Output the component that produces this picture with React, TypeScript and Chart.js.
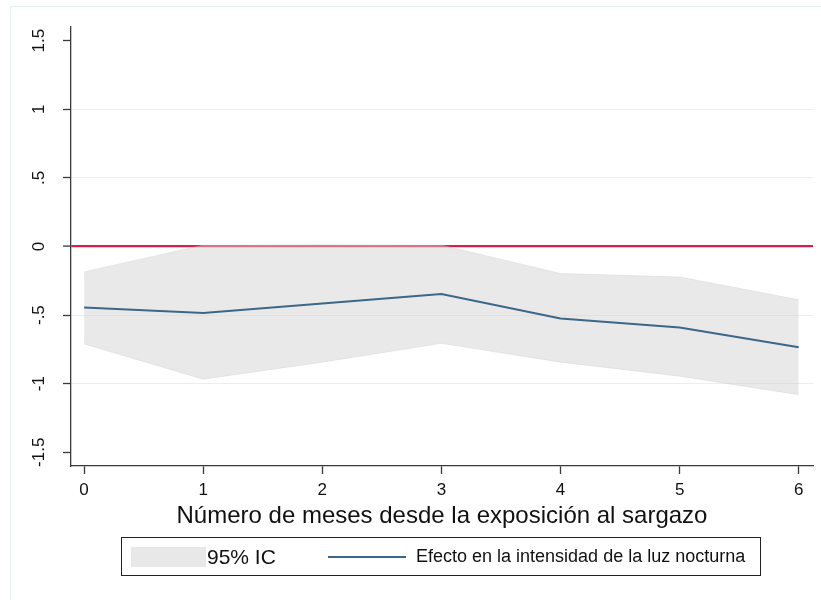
import React, { useEffect, useRef } from "react";
import { Chart, registerables } from "chart.js";

Chart.register(...registerables);

const months = [0, 1, 2, 3, 4, 5, 6];
const effect = [-0.445, -0.485, -0.415, -0.347, -0.524, -0.59, -0.735];
const upperCI = [-0.185, 0.01, 0.012, 0.01, -0.197, -0.222, -0.388];
const lowerCI = [-0.71, -0.967, -0.843, -0.706, -0.843, -0.945, -1.08];
const yTicks = [-1.5, -1, -0.5, 0, 0.5, 1, 1.5];
const xTicks = [0, 1, 2, 3, 4, 5, 6];
const yTickLabels: Record<string, string> = {
  "-1.5": "-1.5",
  "-1": "-1",
  "-0.5": "-.5",
  "0": "0",
  "0.5": ".5",
  "1": "1",
  "1.5": "1.5",
};
const xTitle = "Número de meses desde la exposición al sargazo";
const legendBand = "95% IC";
const legendLine = "Efecto en la intensidad de la luz nocturna";

const FONT = "'Liberation Sans', Arial, sans-serif";
const LINE_COLOR = "#3b6788";
const BAND_COLOR = "rgba(208,208,208,0.48)";
const RED = "#d61f4a";
const GRID = "#e7eff1";
const AXIS = "#3a3a3a";

export default function App() {
  const ref = useRef<HTMLCanvasElement | null>(null);

  useEffect(() => {
    if (!ref.current) return;
    const chart = new Chart(ref.current, {
      type: "line",
      data: {
        datasets: [
          {
            label: legendLine,
            data: months.map((m, i) => ({ x: m, y: effect[i] })),
            borderColor: LINE_COLOR,
            borderWidth: 2,
            pointRadius: 0,
            fill: false,
            tension: 0,
          },
          {
            label: legendBand,
            data: months.map((m, i) => ({ x: m, y: upperCI[i] })),
            borderColor: "rgba(200,200,200,0.35)",
            borderWidth: 1,
            backgroundColor: BAND_COLOR,
            pointRadius: 0,
            fill: "+1",
            tension: 0,
          },
          {
            label: "lower",
            data: months.map((m, i) => ({ x: m, y: lowerCI[i] })),
            borderColor: "rgba(200,200,200,0.35)",
            borderWidth: 1,
            pointRadius: 0,
            fill: false,
            tension: 0,
          },
        ],
      },
      options: {
        animation: false,
        responsive: false,
        layout: { padding: { top: 27, right: 8, left: 0, bottom: 0 } },
        plugins: {
          legend: { display: false },
          tooltip: { enabled: false },
        },
        scales: {
          x: {
            type: "linear",
            min: -0.11,
            max: 6.12,
            afterBuildTicks: (s: any) => {
              s.ticks = xTicks.map((v) => ({ value: v }));
            },
            afterFit: (s: any) => {
              s.height = 134;
            },
            border: { color: AXIS, width: 1.3 },
            grid: {
              drawOnChartArea: false,
              drawTicks: true,
              tickLength: 8,
              tickColor: AXIS,
              tickWidth: 1.3,
            },
            ticks: {
              color: "#111",
              font: { family: FONT, size: 17 },
              padding: 6,
              maxRotation: 0,
              autoSkip: false,
              callback: (v: any) => String(v),
            },
          },
          y: {
            type: "linear",
            min: -1.6,
            max: 1.6,
            afterBuildTicks: (s: any) => {
              s.ticks = yTicks.map((v) => ({ value: v }));
            },
            afterFit: (s: any) => {
              s.width = 71;
            },
            border: { color: AXIS, width: 1.3 },
            grid: {
              drawTicks: true,
              tickLength: 8,
              tickColor: AXIS,
              tickWidth: 1.3,
              color: (ctx: any) => {
                const v = ctx.tick ? ctx.tick.value : null;
                if (v === 0) return RED;
                if (v === 1.5 || v === -1.5) return "rgba(0,0,0,0)";
                return GRID;
              },
              lineWidth: (ctx: any) => (ctx.tick && ctx.tick.value === 0 ? 2.2 : 1),
            },
            ticks: {
              color: "#111",
              font: { family: FONT, size: 17 },
              padding: 9,
              minRotation: 90,
              maxRotation: 90,
              crossAlign: "center",
              autoSkip: false,
              callback: (v: any) => yTickLabels[String(v)] ?? String(v),
            },
          },
        },
      },
    });
    return () => chart.destroy();
  }, []);

  return (
    <div
      style={{
        position: "fixed",
        left: 0,
        top: 0,
        width: 821,
        height: 600,
        overflow: "hidden",
        background: "#fff",
        fontFamily: FONT,
      }}
    >
      <div
        style={{
          position: "absolute",
          left: 10,
          top: 6,
          width: 900,
          height: 700,
          border: "1px solid #e6eef0",
        }}
      />
      <canvas
        ref={ref}
        width={821}
        height={600}
        style={{ position: "absolute", left: 0, top: 0 }}
      />
      <div
        style={{
          position: "absolute",
          left: 71,
          width: 742,
          top: 501,
          textAlign: "center",
          fontSize: 24,
          lineHeight: "28px",
          color: "#111",
          whiteSpace: "nowrap",
        }}
      >
        {xTitle}
      </div>
      <div
        style={{
          position: "absolute",
          left: 121,
          top: 537,
          width: 640,
          height: 39,
          border: "1px solid #222",
          boxSizing: "border-box",
        }}
      >
        <div
          style={{
            position: "absolute",
            left: 9,
            top: 9,
            width: 75,
            height: 20,
            background: "#e8e8e8",
          }}
        />
        <div
          style={{
            position: "absolute",
            left: 85,
            top: 6,
            fontSize: 21,
            lineHeight: "26px",
            color: "#111",
            whiteSpace: "nowrap",
          }}
        >
          {legendBand}
        </div>
        <div
          style={{
            position: "absolute",
            left: 206,
            top: 18,
            width: 78,
            height: 2,
            background: LINE_COLOR,
          }}
        />
        <div
          style={{
            position: "absolute",
            left: 294,
            top: 7,
            fontSize: 18,
            lineHeight: "22px",
            color: "#111",
            whiteSpace: "nowrap",
          }}
        >
          {legendLine}
        </div>
      </div>
    </div>
  );
}
